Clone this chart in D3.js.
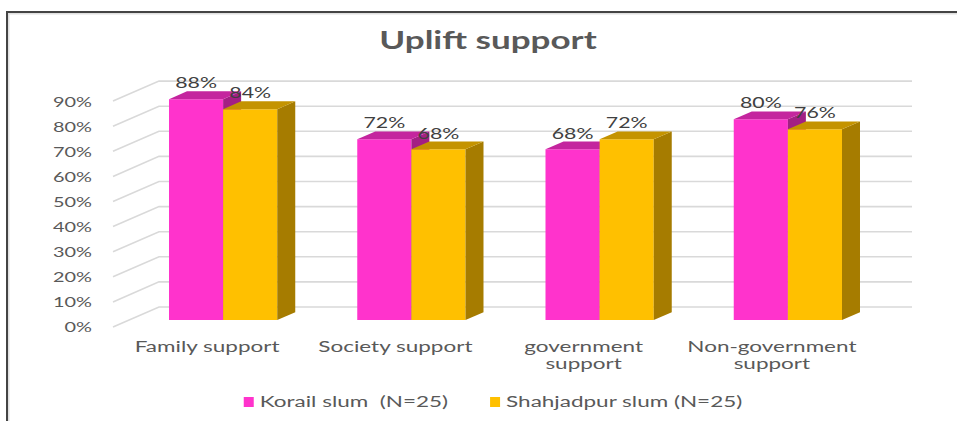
<!DOCTYPE html>
<html>
<head>
<meta charset="utf-8">
<script src="https://cdn.jsdelivr.net/npm/d3@7/dist/d3.min.js"></script>
<style>
  html, body { margin: 0; padding: 0; background: #fff; }
  svg { display: block; }
  text { font-family: Lato, "Open Sans", sans-serif; white-space: pre; }
</style>
</head>
<body>
<svg id="chart" width="957" height="421"></svg>
<script>
// ---- data ----
const categories = ["Family support", "Society support", "government support", "Non-government support"];
const seriesNames = ["Korail slum  (N=25)", "Shahjadpur slum (N=25)"];
const korail = [0.88, 0.72, 0.68, 0.80];
const shahjadpur = [0.84, 0.68, 0.72, 0.76];
const yTicks = [0, 0.1, 0.2, 0.3, 0.4, 0.5, 0.6, 0.7, 0.8, 0.9];
const titleText = "Uplift support";

// ---- styling ----
const W = 957, H = 421;
const SX = 1.42;                 // horizontal glyph stretch for numbers
const SXT = 1.5;                 // horizontal glyph stretch for words
const fronts = ["#FF33CC", "#FFC000"];
const tops   = ["#C4259E", "#C49300"];
const sides  = ["#A31F84", "#A67C00"];

// oblique 3D projection: depth d moves right and up
const slope = 0.435;
const wallDepth = 46, barD0 = 16, barD1 = 34;
const proj = (X, Y, d) => [X + d, Y - d * slope];

const svg = d3.select("#chart");

// outer frame (left and top edges)
svg.append("path").attr("d", `M8.5,${H} V13.5 H${W}`)
  .attr("fill", "none").attr("stroke", "#e0e0e0").attr("stroke-width", 2);
svg.append("path").attr("d", `M7,${H} V12 H${W}`)
  .attr("fill", "none").attr("stroke", "#444").attr("stroke-width", 2);

// scales (front plane)
const x = d3.scaleBand().domain(categories).range([113, 866])
  .paddingInner(0.425).paddingOuter(0.2125);
const xs = d3.scaleBand().domain(seriesNames).range([0, x.bandwidth()]);
const y = d3.scaleLinear().domain([0, 0.9]).range([327, 327 - 225.9]);

// title
svg.append("text")
  .attr("transform", `translate(488,49) scale(1.46,1)`)
  .attr("text-anchor", "middle")
  .attr("font-size", 24).attr("font-weight", 700).attr("fill", "#595959")
  .text(titleText);

// gridlines: left side wall diagonals + back wall horizontals
const grid = svg.append("g").attr("stroke", "#d9d9d9").attr("stroke-width", 1.6).attr("fill", "none");
yTicks.forEach(t => {
  const a = proj(113, y(t), 0), b = proj(113, y(t), wallDepth), c = proj(866, y(t), wallDepth);
  grid.append("path").attr("d", `M${a[0]},${a[1]} L${b[0]},${b[1]} L${c[0]},${c[1]}`);
});

// y axis labels
const yAxis = svg.append("g").attr("transform", "translate(92,0)")
  .call(d3.axisLeft(y).tickValues(yTicks).tickFormat(d3.format(".0%")).tickSize(0).tickPadding(0));
yAxis.select(".domain").remove();
yAxis.selectAll("text")
  .attr("x", 0).attr("dy", "0.35em")
  .attr("transform", `scale(${SX},1)`)
  .attr("font-family", "Lato, 'Open Sans', sans-serif")
  .attr("font-size", 14).attr("fill", "#595959");

// bars
const rows = categories.map((c, i) => ({ cat: c, vals: [korail[i], shahjadpur[i]] }));
const bars = svg.append("g");
rows.forEach(r => {
  r.vals.forEach((v, s) => {
    const X0 = x(r.cat) + xs(seriesNames[s]);
    const X1 = X0 + xs.bandwidth();
    const yb = y(0), yt = y(v);
    const p = (X, Y, d) => proj(X, Y, d).join(",");
    // front face
    bars.append("path").attr("fill", fronts[s])
      .attr("d", `M${p(X0, yb, barD0)} L${p(X1, yb, barD0)} L${p(X1, yt, barD0)} L${p(X0, yt, barD0)}Z`);
    // right side face
    bars.append("path").attr("fill", sides[s])
      .attr("d", `M${p(X1, yb, barD0)} L${p(X1, yb, barD1)} L${p(X1, yt, barD1)} L${p(X1, yt, barD0)}Z`);
    // top face
    bars.append("path").attr("fill", tops[s])
      .attr("d", `M${p(X0, yt, barD0)} L${p(X1, yt, barD0)} L${p(X1, yt, barD1)} L${p(X0, yt, barD1)}Z`);
  });
});

// value labels
const labels = svg.append("g");
rows.forEach(r => {
  r.vals.forEach((v, s) => {
    const Xc = x(r.cat) + xs(seriesNames[s]) + xs.bandwidth() / 2;
    const top = proj(Xc, y(v), barD1);
    labels.append("text")
      .attr("transform", `translate(${Xc + barD0},${top[1] - 3}) scale(${SX},1)`)
      .attr("text-anchor", "middle")
      .attr("font-size", 15).attr("fill", "#404040")
      .text(d3.format(".0%")(v));
  });
});

// category axis
const wrapWidth = 165;
const xAxis = svg.append("g").attr("transform", "translate(0,338)")
  .call(d3.axisBottom(x).tickSize(0).tickPadding(0));
xAxis.select(".domain").remove();
xAxis.selectAll("text").each(function(d) {
  const t = d3.select(this);
  t.text(null).attr("y", 0).attr("dy", null)
    .attr("transform", `scale(${SXT},1)`)
    .attr("font-family", "Lato, 'Open Sans', sans-serif")
    .attr("font-size", 15).attr("fill", "#595959");
  // wrap long category names
  const words = d.split(" ");
  const lines = [];
  let cur = [];
  const probe = t.append("tspan");
  words.forEach(w => {
    const trial = cur.concat(w).join(" ");
    probe.text(trial);
    if (cur.length && probe.node().getComputedTextLength() * SXT > wrapWidth) {
      lines.push(cur.join(" "));
      cur = [w];
    } else cur.push(w);
  });
  lines.push(cur.join(" "));
  probe.remove();
  lines.forEach((ln, i) => {
    t.append("tspan").attr("x", 0).attr("y", 14 + i * 17).text(ln);
  });
});

// legend
const legend = svg.append("g");
const items = seriesNames.map((n, i) => {
  const g = legend.append("g");
  g.append("rect").attr("width", 10).attr("height", 10).attr("y", -5).attr("fill", fronts[i]);
  const tx = g.append("text").attr("transform", `translate(16,0) scale(${SXT},1)`)
    .attr("dy", "0.35em").attr("font-size", 15).attr("fill", "#595959").text(n);
  return { g, w: 16 + tx.node().getComputedTextLength() * SXT };
});
const gap = 42;
const total = d3.sum(items, d => d.w) + gap * (items.length - 1);
let lx = 493 - total / 2;
items.forEach(it => { it.g.attr("transform", `translate(${lx},402)`); lx += it.w + gap; });
</script>
</body>
</html>
